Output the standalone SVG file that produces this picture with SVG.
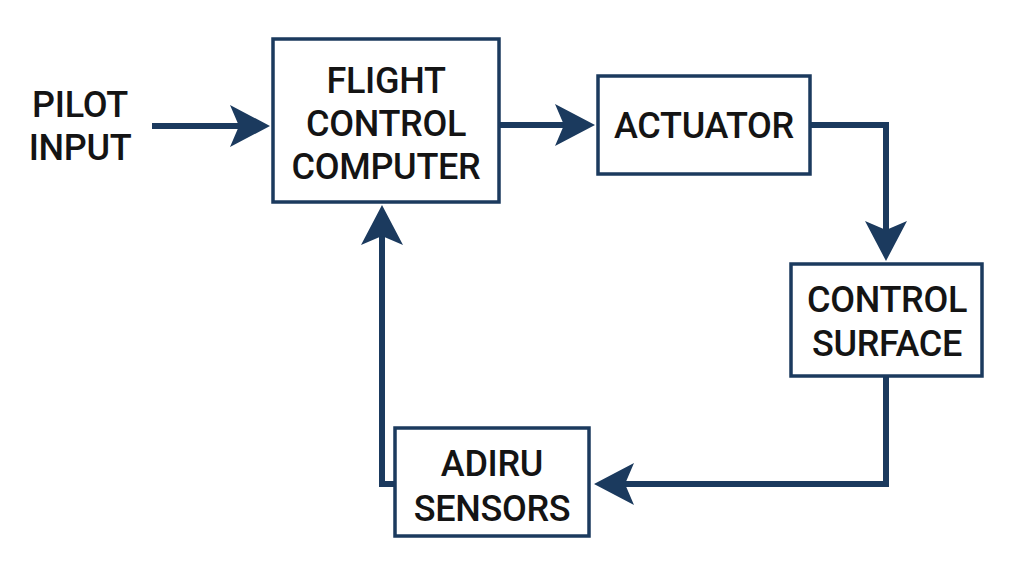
<svg xmlns="http://www.w3.org/2000/svg" width="1024" height="576" viewBox="0 0 1024 576">
<style>
.box{fill:#fff;stroke:#1b3a5e;stroke-width:3.5}
.lbl{font-family:Roboto,"Liberation Sans",sans-serif;font-size:36px;font-weight:500;fill:#141414;text-anchor:middle;letter-spacing:-0.3px}
.conn{fill:none;stroke:#1b3a5e;stroke-width:6}
</style>
<defs>
<marker id="ah" markerUnits="userSpaceOnUse" markerWidth="42" markerHeight="44" refX="9" refY="21" orient="auto" viewBox="0 0 42 44">
<path d="M0,0 L40,21 L0,42 L9,21 Z" fill="#1b3a5e"/>
</marker>
</defs>
<rect width="1024" height="576" fill="#fff"/>
<g id="connectors">
<path class="conn" d="M152,126 H239" marker-end="url(#ah)"/>
<path class="conn" d="M500,125 H564" marker-end="url(#ah)"/>
<path class="conn" d="M811,125 H886 V230" marker-end="url(#ah)"/>
<path class="conn" d="M886,377 V484 H625" marker-end="url(#ah)"/>
<path class="conn" d="M395,484 H382 V236" marker-end="url(#ah)"/>
</g>
<g id="pilot-input">
<text class="lbl" x="80" y="117">PILOT</text>
<text class="lbl" x="80" y="160">INPUT</text>
</g>
<g id="fcc">
<rect class="box" x="273" y="39" width="226" height="163"/>
<text class="lbl" x="386" y="93">FLIGHT</text>
<text class="lbl" x="386" y="136">CONTROL</text>
<text class="lbl" x="386" y="179">COMPUTER</text>
</g>
<g id="actuator">
<rect class="box" x="598" y="76" width="212" height="98"/>
<text class="lbl" x="704" y="138">ACTUATOR</text>
</g>
<g id="control-surface">
<rect class="box" x="791" y="264" width="191" height="112"/>
<text class="lbl" x="887" y="312">CONTROL</text>
<text class="lbl" x="887" y="356">SURFACE</text>
</g>
<g id="adiru">
<rect class="box" x="395" y="428" width="194" height="108"/>
<text class="lbl" x="492" y="476">ADIRU</text>
<text class="lbl" x="492" y="521">SENSORS</text>
</g>
</svg>
